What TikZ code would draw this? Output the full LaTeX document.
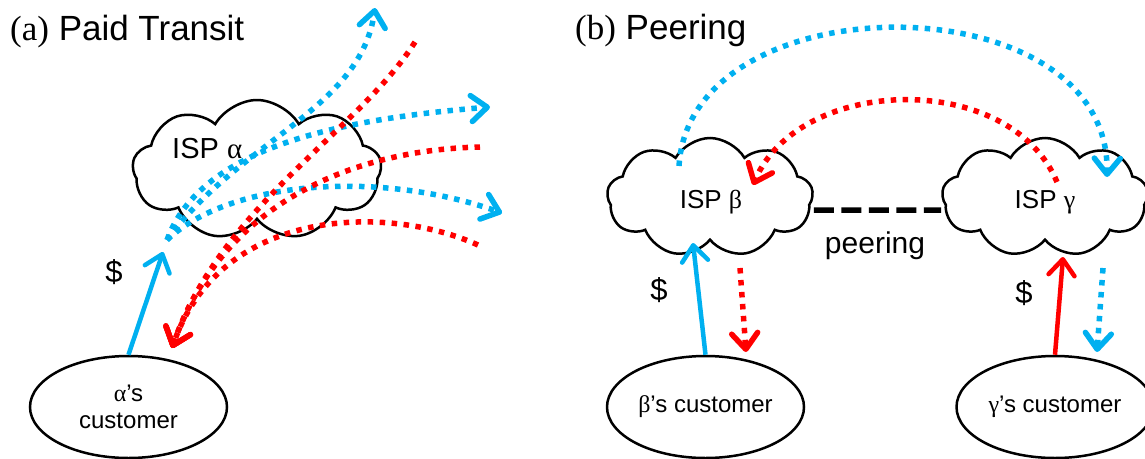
\documentclass[tikz,border=0pt]{standalone}
\usepackage{fontspec}
\setmainfont{Liberation Sans}
\newfontfamily\tmsfont{Liberation Serif}
\usetikzlibrary{shapes.symbols,shapes.geometric,arrows.meta}
\definecolor{pblue}{RGB}{0,176,240}
\definecolor{pred}{RGB}{255,0,0}
\newcommand{\gk}[1]{{\tmsfont #1}}

\begin{document}
\begin{tikzpicture}[x=1pt,y=-1pt,
  ispcloud/.style={cloud,cloud puffs=9,cloud puff arc=120,cloud ignores aspect,draw,line width=2.5pt,inner sep=0pt},
  cust/.style={ellipse,draw,fill=white,line width=2.5pt,minimum width=197pt,minimum height=102pt,inner sep=0pt,align=center,font=\fontsize{24}{27}\selectfont},
  lbl/.style={inner sep=0pt},
  paid/.style={line width=4.5pt,-{Straight Barb[length=16pt,width=26pt,round]}},
  flow/.style={line width=5.5pt,dash pattern=on 5.5pt off 6.5pt,-{Straight Barb[length=16pt,width=26pt,round]}},
  peerline/.style={line width=5.5pt,dash pattern=on 20pt off 7.5pt}]
  \useasboundingbox (0,0) rectangle (1145,458);

  % (a) paid transit
  \node[lbl,anchor=base west,font=\fontsize{35}{40}\selectfont] (titlea) at (10,40) {{\tmsfont (a)} Paid Transit};
  \node[ispcloud,minimum width=249pt,minimum height=140pt] (ispa) at (257,170) {};
  \node[cust] (custa) at (128.5,407) {\gk{α}’s\\customer};
  \node[lbl,font=\fontsize{31}{34}\selectfont] (usda) at (114,272) {\$};
  \coordinate (apay) at (163,252);
  \coordinate (afan) at (167,240);
  \coordinate (aout1) at (375,8);
  \coordinate (aout2) at (490,107);
  \coordinate (aout3) at (502,213);
  \coordinate (ain1) at (415,42);
  \coordinate (ain2) at (480,147);
  \coordinate (ain3) at (478,245);
  \coordinate (atip) at (172,348);
  \draw[paid,pblue] (custa.north) -- (apay);
  \draw[flow,pblue] (afan) .. controls (240,140) and (360,110) .. (aout1);
  \draw[flow,pblue] (afan) .. controls (200,150) and (330,120) .. (aout2);
  \draw[flow,pblue] (afan) .. controls (230,180) and (380,170) .. (aout3);
  \draw[flow,pred] (ain1) .. controls (360,130) and (222,205) .. (atip);
  \draw[flow,pred] (ain2) .. controls (350,150) and (222,205) .. (atip);
  \draw[flow,pred] (ain3) .. controls (390,205) and (222,205) .. (atip);
  \node[lbl,anchor=base west,font=\fontsize{29}{32}\selectfont] (ispalbl) at (172,158) {ISP \gk{α}};

  % (b) peering
  \node[lbl,anchor=base west,font=\fontsize{35}{40}\selectfont] (titleb) at (575,39) {{\tmsfont (b)} Peering};
  \node[ispcloud,minimum width=206pt,minimum height=119pt] (ispb) at (710,197.5) {};
  \node[ispcloud,minimum width=206pt,minimum height=119pt] (ispg) at (1045,197.5) {};
  \node[lbl,anchor=base,font=\fontsize{26}{30}\selectfont] (ispblbl) at (711,208) {ISP \gk{β}};
  \node[lbl,anchor=base,font=\fontsize{26}{30}\selectfont] (ispglbl) at (1045,208) {ISP \gk{γ}};
  \draw[peerline] ([yshift=-12.5pt]ispb.east) -- ([yshift=-12.5pt]ispg.west);
  \node[lbl,anchor=base,font=\fontsize{30}{34}\selectfont] (peer) at (875,253) {peering};
  \node[cust] (custb) at (705.5,407) {\gk{β}’s customer};
  \node[cust] (custg) at (1055,407) {\gk{γ}’s customer};
  \node[lbl,font=\fontsize{31}{34}\selectfont] (usdb) at (659,290) {\$};
  \node[lbl,font=\fontsize{31}{34}\selectfont] (usdg) at (1024,293) {\$};
  \coordinate (bsrc) at (679,166);
  \coordinate (btip) at (1107,177);
  \coordinate (gsrc) at (1057,182);
  \coordinate (gtip) at (753,185);
  \coordinate (bpay) at (693,243);
  \coordinate (bdown) at (740,268);
  \coordinate (bdtip) at (746,352);
  \coordinate (gpay) at (1063,257);
  \coordinate (gdown) at (1103,268);
  \coordinate (gdtip) at (1097,352);
  \draw[flow,pblue] (bsrc) .. controls (690,-20) and (1110,-20) .. (btip);
  \draw[flow,pred] (gsrc) .. controls (1010,70) and (800,75) .. (gtip);
  \draw[paid,pblue] (custb.north) -- (bpay);
  \draw[flow,pred] (bdown) -- (bdtip);
  \draw[paid,pred] (custg.north) -- (gpay);
  \draw[flow,pblue] (gdown) -- (gdtip);
\end{tikzpicture}
\end{document}
